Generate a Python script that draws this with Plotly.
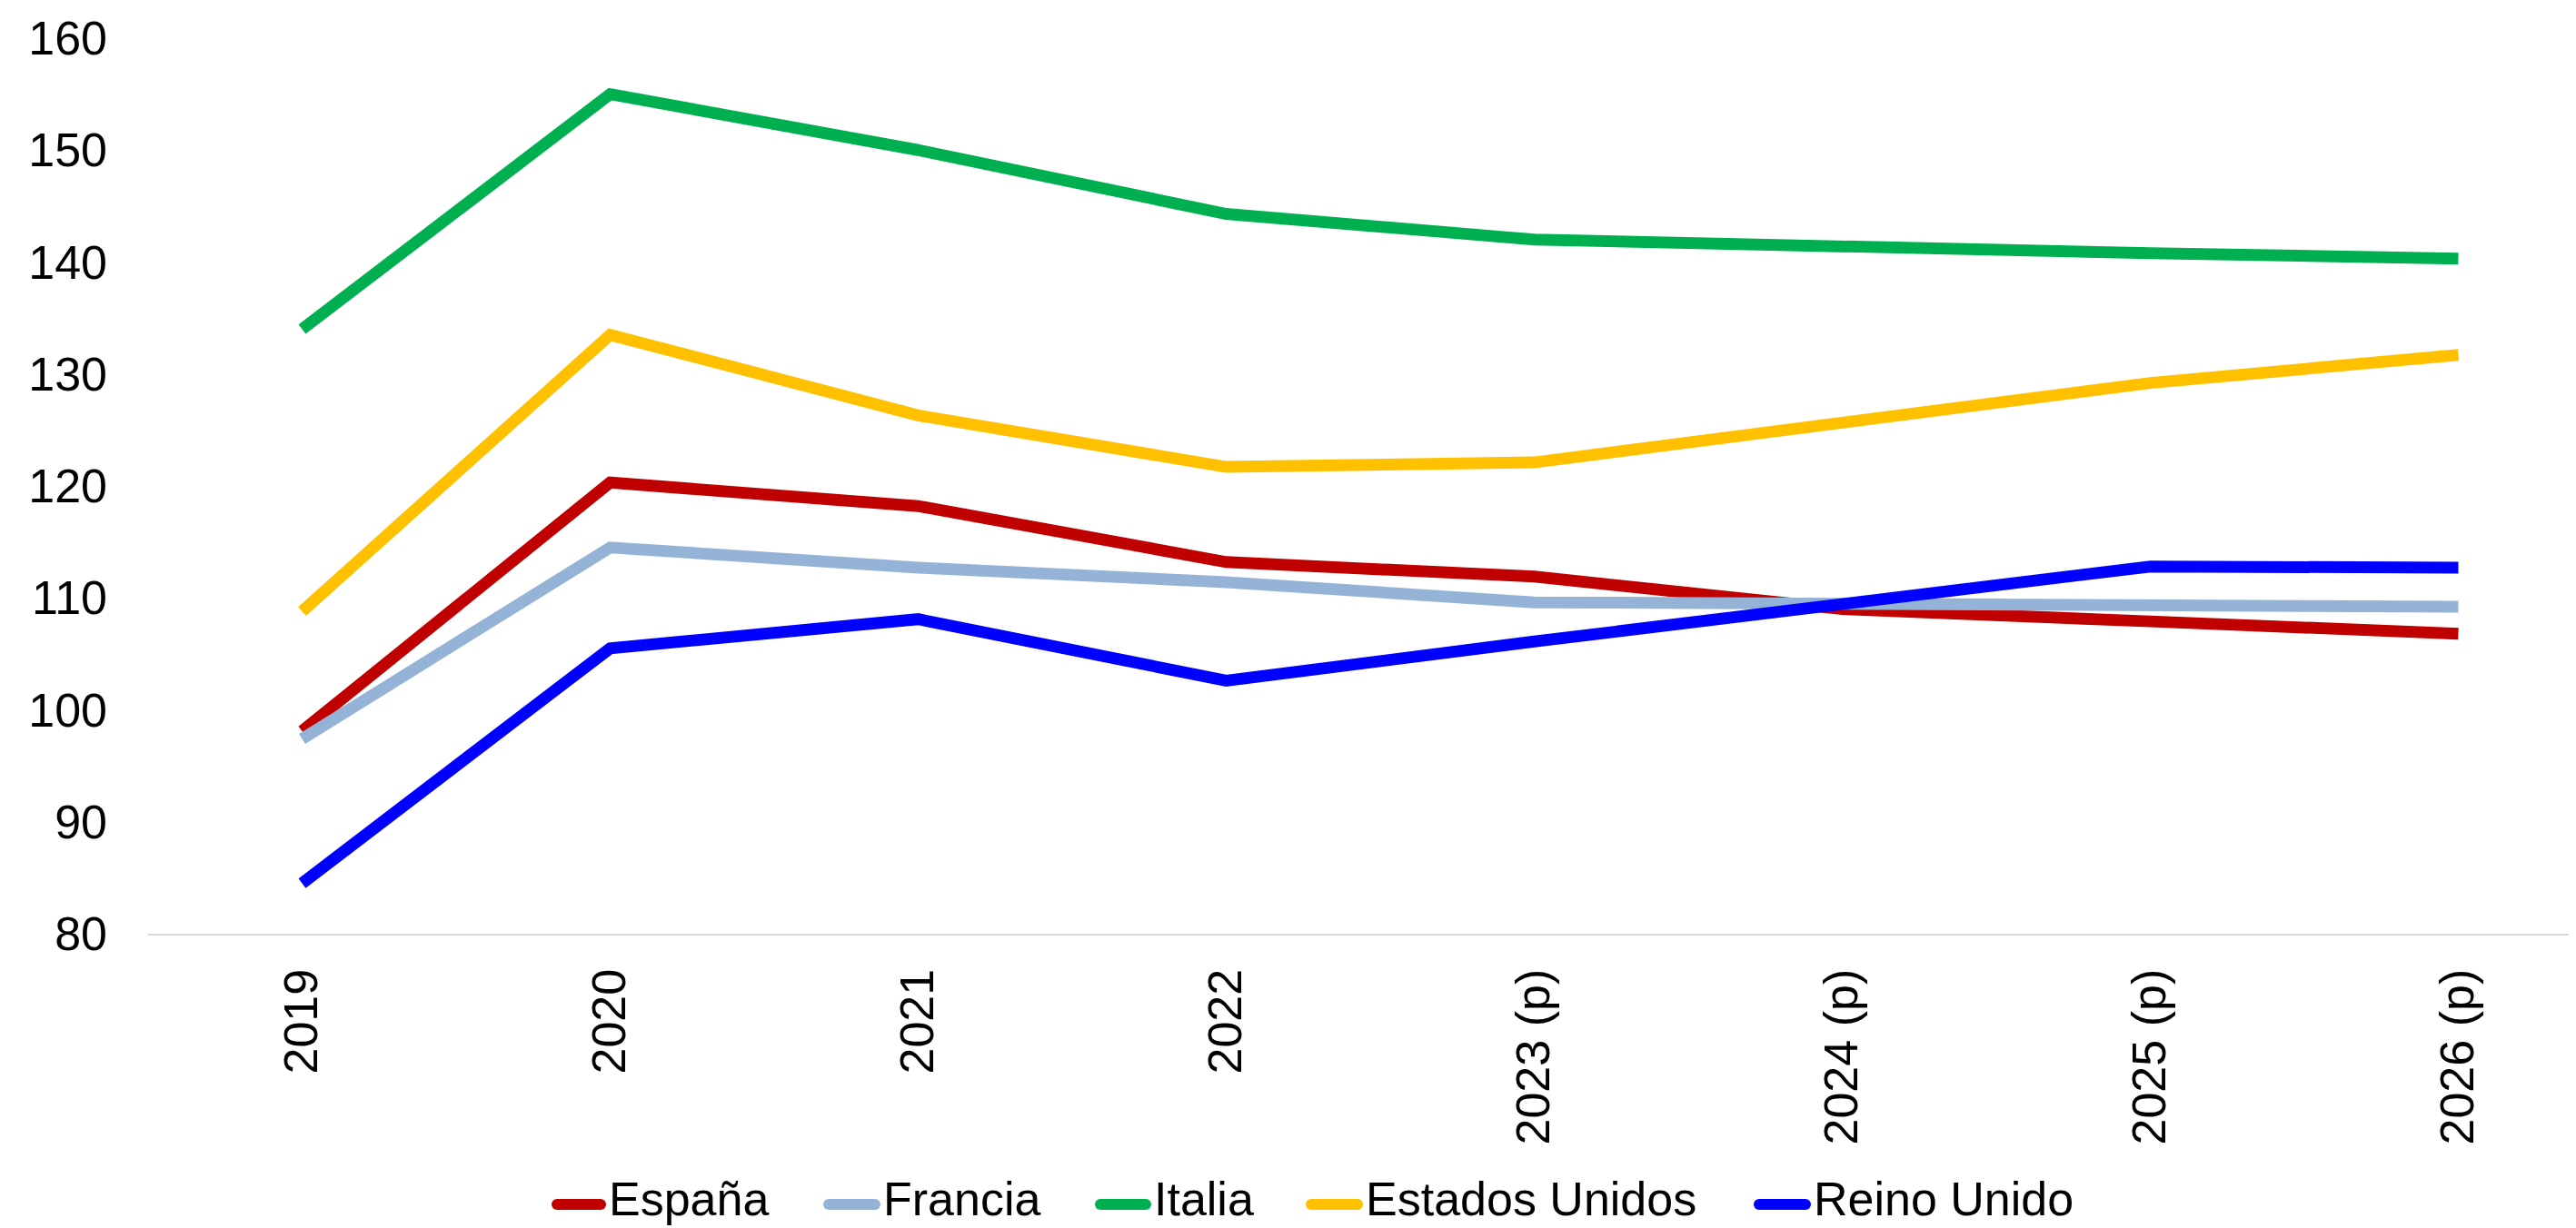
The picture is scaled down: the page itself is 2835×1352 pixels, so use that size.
import plotly.graph_objects as go

years = ["2019", "2020", "2021", "2022", "2023 (p)", "2024 (p)", "2025 (p)", "2026 (p)"]

espana = [98.1, 120.3, 118.2, 113.2, 111.9, 109.0, 107.9, 106.8]
francia = [97.4, 114.5, 112.7, 111.4, 109.6, 109.5, 109.4, 109.2]
italia = [134.0, 155.0, 150.0, 144.3, 142.0, 141.3, 140.8, 140.3]
estados_unidos = [108.8, 133.5, 126.3, 121.7, 122.1, 125.7, 129.2, 131.7]
reino_unido = [84.5, 105.5, 108.1, 102.6, 106.1, 109.5, 112.8, 112.7]

names = ["España", "Francia", "Italia", "Estados Unidos", "Reino Unido"]
colors = ["#C00000", "#95B3D7", "#00B050", "#FFC000", "#0000FF"]
values = [espana, francia, italia, estados_unidos, reino_unido]

# The page body has an 8px default margin, so the figure is drawn 8px in
# from the top-left of the window; size and offsets compensate for that.
OFF = 8
W_PX, H_PX = 2835 - OFF, 1352 - OFF
M_L, M_R, M_T, M_B = 163 - OFF, 0, 42 - OFF, 324
PLOT_W = W_PX - M_L - M_R
PLOT_H = H_PX - M_T - M_B

def px_to_paper_x(px):
    # px given in window coordinates
    return (px - OFF - M_L) / PLOT_W

def px_to_paper_y(py):
    return (H_PX - M_B - (py - OFF)) / PLOT_H

font_family = "Liberation Sans, Arial, sans-serif"
FS = 52

fig = go.Figure()
for name, vals, color in zip(names, values, colors):
    fig.add_trace(go.Scatter(
        x=years, y=vals, name=name, mode="lines",
        line=dict(color=color, width=13),
        showlegend=False,
    ))

# custom legend (long line keys like the original), window pixel positions
legend_sym_x = [(607, 667), (906, 969), (1205, 1267), (1437, 1500), (1930, 1993)]
legend_sym_y = 1326
legend_txt_y = 1320
shapes = []
annotations = []
for (x0, x1), name, color in zip(legend_sym_x, names, colors):
    shapes.append(dict(
        type="line", xref="paper", yref="paper",
        x0=px_to_paper_x(x0 + 6), x1=px_to_paper_x(x1 - 6),
        y0=px_to_paper_y(legend_sym_y), y1=px_to_paper_y(legend_sym_y),
        line=dict(color=color, width=12),
    ))
    for cx in (x0 + 6, x1 - 6):
        shapes.append(dict(
            type="circle", xref="paper", yref="paper",
            x0=px_to_paper_x(cx - 6), x1=px_to_paper_x(cx + 6),
            y0=px_to_paper_y(legend_sym_y + 6), y1=px_to_paper_y(legend_sym_y - 6),
            fillcolor=color, line=dict(width=0),
        ))
    annotations.append(dict(
        text=name, xref="paper", yref="paper",
        x=px_to_paper_x(x1 + 2), y=px_to_paper_y(legend_txt_y),
        xanchor="left", yanchor="middle", showarrow=False,
        borderpad=0,
        font=dict(family=font_family, size=FS, color="black"),
    ))

fig.update_layout(
    width=W_PX, height=H_PX,
    paper_bgcolor="white", plot_bgcolor="white",
    margin=dict(l=M_L, r=M_R, t=M_T, b=M_B, autoexpand=False),
    font=dict(family=font_family, size=FS, color="black"),
    showlegend=False,
    shapes=shapes,
    annotations=annotations,
    xaxis=dict(
        type="category", range=[-0.5, 7.382], automargin=False,
        showgrid=False, zeroline=False,
        showline=True, linecolor="#D9D9D9", linewidth=2,
        ticks="", tickangle=-90, ticklabelstandoff=16,
        tickfont=dict(family=font_family, size=FS, color="black"),
    ),
    yaxis=dict(
        range=[80, 160], dtick=10, tick0=80, automargin=False,
        showgrid=False, zeroline=False, showline=False,
        ticks="", ticklabelstandoff=44,
        tickfont=dict(family=font_family, size=FS, color="black"),
    ),
)

fig.write_html("out.html")
